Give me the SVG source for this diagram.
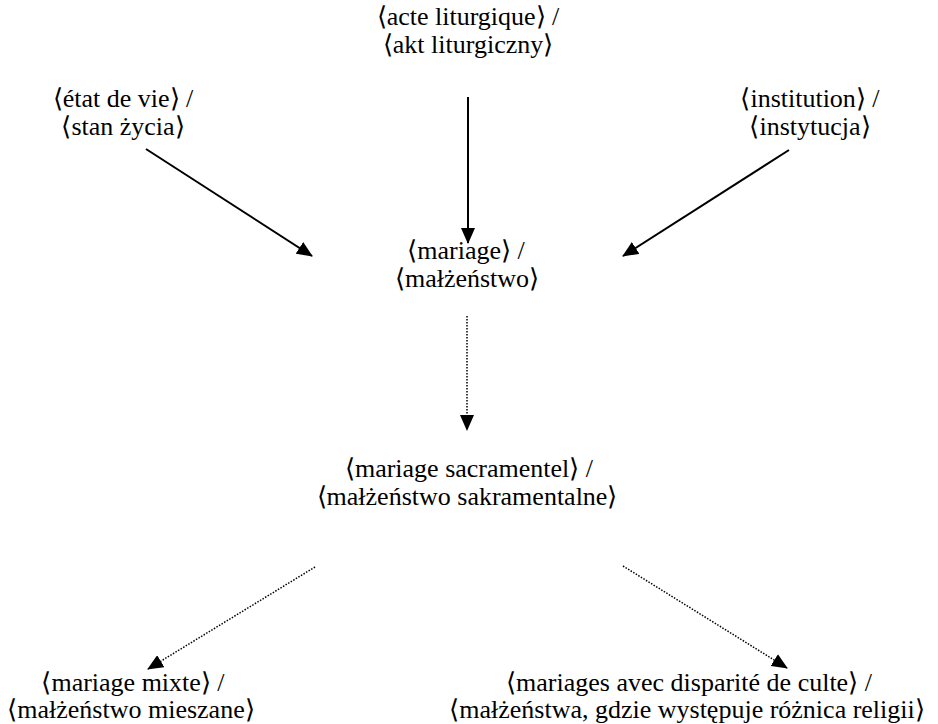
<svg xmlns="http://www.w3.org/2000/svg" width="938" height="724" viewBox="0 0 938 724">
<style>
text{font-family:"Liberation Serif","Times New Roman",Tinos,serif;font-size:26px;fill:#000;text-anchor:middle}
.solid{stroke:#000;stroke-width:2;fill:none}
.dot{stroke:#000;stroke-width:1.5;fill:none;stroke-dasharray:1.5 1.5}
</style>
<defs>
<marker id="ah" markerUnits="userSpaceOnUse" markerWidth="16" markerHeight="14" refX="15" refY="7" orient="auto">
<path d="M0,0 L16,7 L0,14 Z" fill="#000"/>
</marker>
</defs>
<rect width="938" height="724" fill="#fff"/>
<g id="connectors">
<line class="solid" x1="146" y1="149" x2="312" y2="256" marker-end="url(#ah)"/>
<line class="solid" x1="468" y1="97" x2="468" y2="243" marker-end="url(#ah)"/>
<line class="solid" x1="789" y1="150" x2="623" y2="256" marker-end="url(#ah)"/>
<line class="dot" x1="467" y1="316" x2="467" y2="430" marker-end="url(#ah)"/>
<line class="dot" x1="315" y1="567" x2="148" y2="669" marker-end="url(#ah)"/>
<line class="dot" x1="623" y1="566" x2="787" y2="668" marker-end="url(#ah)"/>
</g>
<g id="acte">
<text x="468" y="25">⟨acte liturgique⟩ /</text>
<text x="468" y="53">⟨akt liturgiczny⟩</text>
</g>
<g id="etat">
<text x="123" y="107">⟨état de vie⟩ /</text>
<text x="123" y="135">⟨stan życia⟩</text>
</g>
<g id="institution">
<text x="810" y="107">⟨institution⟩ /</text>
<text x="810" y="135">⟨instytucja⟩</text>
</g>
<g id="mariage">
<text x="466" y="259">⟨mariage⟩ /</text>
<text x="467" y="287">⟨małżeństwo⟩</text>
</g>
<g id="sacramentel">
<text x="469" y="477">⟨mariage sacramentel⟩ /</text>
<text x="467" y="505">⟨małżeństwo sakramentalne⟩</text>
</g>
<g id="mixte">
<text x="133" y="691">⟨mariage mixte⟩ /</text>
<text x="131" y="718">⟨małżeństwo mieszane⟩</text>
</g>
<g id="disparite">
<text x="689" y="691">⟨mariages avec disparité de culte⟩ /</text>
<text x="687" y="718">⟨małżeństwa, gdzie występuje różnica religii⟩</text>
</g>
</svg>
